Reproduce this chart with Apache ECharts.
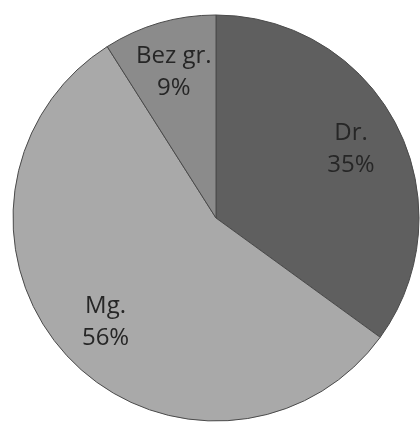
<!DOCTYPE html>
<html>
<head>
<meta charset="utf-8">
<script src="https://cdn.jsdelivr.net/npm/echarts@6/dist/echarts.min.js"></script>
<style>html,body{margin:0;padding:0;background:#fff}#c{width:420px;height:425px}</style>
</head>
<body>
<div id="c"></div>
<script>
const categories = ['Dr.', 'Mg.', 'Bez gr.'];
const values = [35, 56, 9];
const colors = ['#5f5f5f', '#a9a9a9', '#8b8b8b'];

const data = categories.map((name, i) => ({ name, value: values[i], itemStyle: { color: colors[i] } }));
const chart = echarts.init(document.getElementById('c'), null, { renderer: 'canvas' });
chart.setOption({
  animation: false,
  series: [
    {
      type: 'pie',
      center: [216, 218],
      radius: [0, 203],
      startAngle: 90,
      clockwise: true,
      silent: true,
      label: { show: false },
      labelLine: { show: false },
      itemStyle: { borderColor: '#4a4a4a', borderWidth: 1 },
      data: data
    },
    {
      type: 'pie',
      center: [216, 218],
      radius: [94, 203],
      startAngle: 90,
      clockwise: true,
      silent: true,
      itemStyle: { color: 'transparent', borderWidth: 0 },
      label: {
        show: true,
        position: 'inside',
        formatter: p => p.name + '\n' + p.value + '%',
        fontFamily: 'Open Sans',
        fontSize: 24,
        lineHeight: 32,
        color: '#262626',
        textBorderWidth: 0
      },
      labelLine: { show: false },
      data: categories.map((name, i) => ({ name, value: values[i] }))
    }
  ]
});
</script>
</body>
</html>
